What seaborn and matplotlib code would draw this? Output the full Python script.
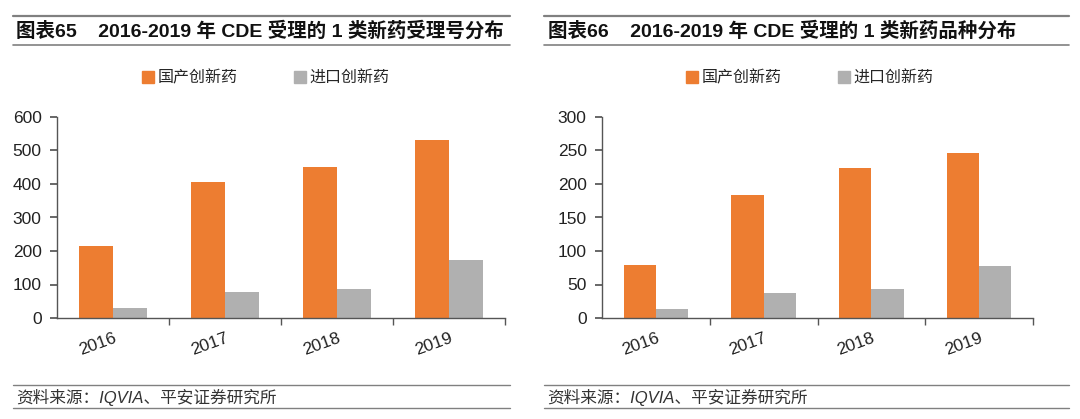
import pandas as pd
import matplotlib
matplotlib.use('Agg')
import matplotlib.pyplot as plt
import seaborn as sns
from matplotlib.lines import Line2D
from matplotlib.ticker import FixedLocator

# data
years = ['2016', '2017', '2018', '2019']
series_names = ['国产创新药', '进口创新药']
accept_domestic = [215, 407, 451, 532]
accept_imported = [30, 78, 86, 172]
variety_domestic = [79, 183, 224, 246]
variety_imported = [14, 38, 43, 77]

titles = ['图表65    2016-2019 年 CDE 受理的 1 类新药受理号分布',
          '图表66    2016-2019 年 CDE 受理的 1 类新药品种分布']
source = '资料来源：IQVIA、平安证券研究所'
colors = ['#ED7D31', '#B0B0B0']

sns.set_theme(style='white')
plt.rcParams['font.family'] = ['Liberation Sans', 'Noto Sans CJK SC', 'DejaVu Sans']


def make_df(dom, imp):
    rows = []
    for y, d, i in zip(years, dom, imp):
        rows.append({'year': y, 'type': series_names[0], 'value': d})
        rows.append({'year': y, 'type': series_names[1], 'value': i})
    return pd.DataFrame(rows)


fig = plt.figure(figsize=(10.8, 4.19), dpi=100)

panels = [
    (make_df(accept_domestic, accept_imported), [57, 505], 600, 100, 0.012, 0.472, 0.464),
    (make_df(variety_domestic, variety_imported), [602, 1033], 300, 50, 0.504, 0.99, 0.48),
]

for k, (df, (x0, x1), ymax, step, lx0, lx1, legx) in enumerate(panels):
    ax = fig.add_axes([x0 / 1080, (419 - 318) / 419, (x1 - x0) / 1080, (318 - 117) / 419])
    sns.barplot(data=df, x='year', y='value', hue='type', palette=colors,
                width=0.6, ax=ax, saturation=1, legend=False, linewidth=0)
    ax.set_xlim(-0.5, 3.5)
    ax.set_ylim(0, ymax)
    ax.set_yticks(range(0, ymax + 1, step))
    ax.set_xlabel('')
    ax.set_ylabel('')
    for s in ['top', 'right']:
        ax.spines[s].set_visible(False)
    for s in ['left', 'bottom']:
        ax.spines[s].set_color('#555555')
        ax.spines[s].set_linewidth(1.0)
    ax.tick_params(axis='y', left=True, length=5, color='#555555', labelsize=12.5, pad=6)
    ax.tick_params(axis='x', which='major', bottom=False, labelsize=12.5, pad=3)
    ax.xaxis.set_minor_locator(FixedLocator([0.5, 1.5, 2.5, 3.5]))
    ax.tick_params(axis='x', which='minor', bottom=True, length=5, color='#555555')
    for lab in ax.get_xticklabels():
        lab.set_rotation(20)
        lab.set_ha('right')
        lab.set_va('top')
        lab.set_rotation_mode('anchor')
        lab.set_color('#222222')
    for lab in ax.get_yticklabels():
        lab.set_color('#222222')

    handles = [Line2D([], [], marker='s', linestyle='', markersize=9, color=c) for c in colors]
    ax.legend(handles, series_names, loc='center', bbox_to_anchor=(legx, 1 + 39 / 201),
              ncol=2, frameon=False, handletextpad=0.1, columnspacing=3.4,
              fontsize=11.5, handlelength=1.0)

    # title block with rules
    fig.add_artist(Line2D([lx0, lx1], [1 - 16 / 419] * 2, color='#808080', lw=1.6))
    fig.add_artist(Line2D([lx0, lx1], [1 - 45 / 419] * 2, color='#808080', lw=1.2))
    fig.text(lx0 + 0.003, 1 - 31 / 419, titles[k], fontsize=14, fontweight='bold',
             color='#111111', va='center', ha='left')

    # source block
    fig.add_artist(Line2D([lx0, lx1], [1 - 385 / 419] * 2, color='#808080', lw=1.0))
    fig.add_artist(Line2D([lx0, lx1], [1 - 408 / 419] * 2, color='#808080', lw=1.0))
    fig.text(lx0 + 0.003, 1 - 397 / 419, source, fontsize=12, fontstyle='italic',
             color='#333333', va='center', ha='left')

fig.savefig('out.png', dpi=100)
